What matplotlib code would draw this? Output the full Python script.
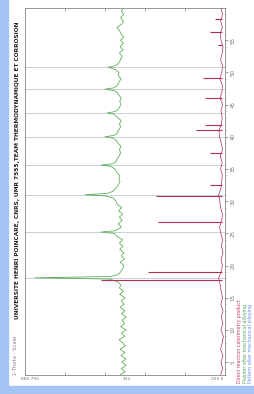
import matplotlib
matplotlib.use("Agg")
import matplotlib.pyplot as plt
from matplotlib.patches import Rectangle

# 2-theta (deg) / intensity (counts, offset)
green_theta = [3.0, 3.5, 4.0, 4.5, 5.0, 5.5, 6.0, 6.5, 7.0, 7.5, 8.0, 8.5, 9.0, 9.5,
               10.0, 10.5, 11.0, 11.5, 12.0, 12.5, 13.0, 13.5, 14.0, 14.5, 15.0, 15.5,
               16.0, 16.5, 17.0, 17.5, 17.9, 18.1, 18.3, 18.6, 19.0, 19.5, 20.0, 20.5,
               21.0, 21.5, 22.0, 22.5, 23.0, 23.5, 24.0, 24.5, 25.0, 25.2, 25.4, 25.7,
               26.0, 26.5, 27.0, 27.5, 28.0, 28.5, 29.0, 29.5, 30.0, 30.5, 30.8, 31.0,
               31.2, 31.5, 32.0, 32.5, 33.0, 33.5, 34.0, 34.5, 35.0, 35.4, 35.6, 35.8,
               36.1, 36.5, 37.0, 37.5, 38.0, 38.5, 39.0, 39.5, 39.8, 40.0, 40.2, 40.5,
               41.0, 41.5, 42.0, 42.5, 43.0, 43.5, 43.7, 43.9, 44.2, 44.5, 45.0, 45.5,
               46.0, 46.5, 47.0, 47.2, 47.4, 47.6, 47.9, 48.5, 49.0, 49.5, 50.0, 50.4,
               50.6, 50.8, 51.0, 51.2, 51.5, 52.0, 52.5, 53.0, 53.5, 54.0, 54.5, 55.0,
               55.5, 56.0, 56.5, 57.0, 57.5, 58.0, 58.5, 59.0, 59.5, 60.0]
green_int = [525, 500, 518, 495, 515, 495, 520, 500, 525, 498, 512, 530, 500, 518,
             495, 522, 502, 515, 494, 518, 500, 525, 505, 518, 500, 526,
             508, 528, 520, 540, 575, 950, 570, 535, 522, 512, 505, 524,
             502, 518, 506, 526, 510, 528, 512, 538, 555, 620, 550, 532,
             518, 534, 514, 528, 512, 532, 516, 538, 545, 560, 595, 700,
             590, 562, 545, 535, 525, 530, 528, 542, 550, 570, 620, 565,
             545, 540, 530, 522, 528, 520, 535, 545, 562, 600, 558, 540,
             532, 522, 528, 518, 538, 556, 590, 552, 536, 530, 520, 526,
             518, 532, 542, 562, 600, 556, 540, 530, 520, 534, 530, 548,
             562, 585, 552, 540, 530, 522, 514, 528, 510, 524, 508, 522,
             506, 520, 528, 540, 516, 508, 522, 506, 518, 510]

red_theta = [3, 4, 5, 6, 7, 8, 9, 10, 11, 12, 13, 14, 15, 16, 17, 18, 19, 20, 21, 22,
             23, 24, 25, 26, 27, 28, 29, 30, 31, 32, 33, 34, 35, 36, 37, 38, 39, 40,
             41, 42, 43, 44, 45, 46, 47, 48, 49, 50, 51, 52, 53, 54, 55, 56, 57, 58,
             59, 60]
red_int = [22, 12, 20, 10, 22, 14, 8, 20, 11, 18, 10, 21, 12, 19, 24, 32, 20, 13, 20, 10,
           18, 12, 21, 27, 16, 13, 22, 26, 32, 20, 17, 13, 22, 14, 24, 12, 19, 27,
           30, 18, 14, 20, 12, 24, 15, 13, 26, 16, 12, 22, 14, 10, 20, 24, 13, 22,
           12, 20]

red_peak_theta = [58.3, 56.3, 54.3, 49.1, 46.0, 41.8, 41.1, 37.5, 32.5, 30.8, 26.8, 19.0, 17.8]
red_peak_int = [50, 75, 35, 110, 100, 100, 145, 75, 75, 345, 335, 385, 620]

ref_theta = [50.8, 47.4, 43.7, 40.0, 35.6, 31.0, 25.2, 18.1]

title = "UNIVERSITE HENRI POINCARE, CNRS, UMR 7555,TEAM THERMODYNAMIQUE ET CORROSION"
legend_labels = ["Direct reaction calorimetry product",
                 "Powder after mechanical alloying",
                 "Pattern after mechanical alloying"]
legend_colors = ["#c0406a", "#5aa85a", "#6a8ee8"]

fig = plt.figure(figsize=(2.55, 3.94), dpi=100)
fig.patch.set_facecolor("white")
fig.patches.append(Rectangle((0, 0), 8 / 255, 1, transform=fig.transFigure,
                             color="#a4c4f4", zorder=0))
fig.patches.append(Rectangle((0, 0), 1, 8 / 394, transform=fig.transFigure,
                             color="#a4c4f4", zorder=0))

ax = fig.add_axes([25 / 255, 1 - 375 / 394, 200 / 255, 367 / 394])

for t in ref_theta:
    ax.axhline(t, color="#b4bece", lw=0.5, zorder=1)

ax.plot(green_int, green_theta, color="#62ae5a", lw=0.6, zorder=3)
ax.plot(red_int, red_theta, color="#b03050", lw=0.5, zorder=3)
ax.hlines(red_peak_theta, 15, red_peak_int, color="#b03050", lw=0.8, zorder=4)

ax.set_xlim(1000, 0)
ax.set_ylim(3, 60)

ax.yaxis.tick_right()
ax.set_yticks(range(5, 60, 5))
ax.set_yticks(range(3, 61), minor=True)
ax.set_yticklabels([str(v) for v in range(5, 60, 5)], rotation=90, va="center",
                   fontsize=4, color="#777777")
ax.tick_params(axis="y", which="major", length=2, width=0.5, color="#777777", pad=2)
ax.tick_params(axis="y", which="minor", length=1, width=0.4, color="#777777")

ax.set_xticks([975, 490, 40])
ax.set_xticklabels(["880 755", "412", "200 0"], fontsize=3.2, color="#777777")
ax.set_xticks([800, 600, 400, 200], minor=True)
ax.tick_params(axis="x", which="major", length=0, pad=1.5)
ax.tick_params(axis="x", which="minor", length=2, width=0.5, direction="in",
               color="#777777", top=True)

for s in ax.spines.values():
    s.set_color("#888888")
    s.set_linewidth(0.6)

fig.text(18 / 255, 1 - 170 / 394, title, rotation=90, ha="center", va="center",
         fontsize=4.2, fontweight="bold", color="#222222")
fig.text(16 / 255, 1 - 355 / 394, "2-Theta - Scale", rotation=90, ha="center",
         va="center", fontsize=3.8, color="#888888")

for i, (lab, col) in enumerate(zip(legend_labels, legend_colors)):
    fig.text((240 + 5.5 * i) / 255, 1 - 383 / 394, lab, rotation=90, ha="center",
             va="bottom", fontsize=3.4, color=col)

fig.savefig("out.png", dpi=100)
